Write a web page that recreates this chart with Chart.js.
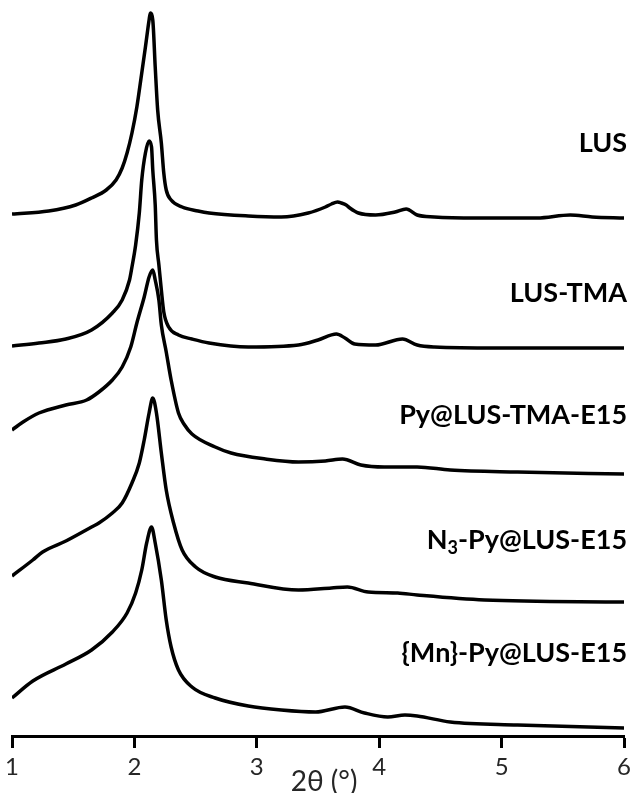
<!DOCTYPE html>
<html>
<head>
<meta charset="utf-8">
<script src="https://cdn.jsdelivr.net/npm/chart.js@4/dist/chart.umd.min.js"></script>
<style>
  html, body { margin: 0; padding: 0; background: #fff; }
  canvas { display: block; }
</style>
</head>
<body>
<canvas id="xrd" width="636" height="793"></canvas>
<script>
// Small-angle XRD patterns, stacked (intensity in arbitrary units, offset per sample)
var seriesNames = ['LUS', 'LUS-TMA', 'Py@LUS-TMA-E15', 'N3-Py@LUS-E15', '{Mn}-Py@LUS-E15'];
var xTicks = [1, 2, 3, 4, 5, 6];

var lusX = [1.00, 1.30, 1.52, 1.65, 1.77, 1.85, 1.90, 1.94, 1.98, 2.02, 2.06, 2.09, 2.12, 2.13, 2.15, 2.17, 2.19, 2.22, 2.24, 2.26, 2.30, 2.39, 2.52, 2.61, 2.93, 3.20, 3.42, 3.56, 3.61, 3.66, 3.69, 3.73, 3.76, 3.83, 3.97, 4.13, 4.22, 4.31, 4.45, 4.80, 5.29, 5.56, 5.74, 6.00];
var lusY = [522, 525, 531, 538, 546, 556, 568, 583, 603, 629, 663, 689, 716, 723, 716, 669, 626, 593, 563, 546, 536, 529, 525, 523, 520, 519, 523, 529, 532, 534, 533, 531, 528, 523, 521, 524, 527, 521, 519, 518, 518, 521, 519, 518];

var tmaX = [1.00, 1.22, 1.44, 1.65, 1.82, 1.90, 1.96, 1.98, 2.01, 2.04, 2.06, 2.09, 2.12, 2.14, 2.15, 2.17, 2.18, 2.20, 2.22, 2.24, 2.28, 2.36, 2.47, 2.61, 2.93, 3.34, 3.50, 3.65, 3.72, 3.80, 3.97, 4.19, 4.31, 4.45, 4.96, 6.00];
var tmaY = [390, 393, 397, 406, 423, 436, 456, 469, 491, 523, 556, 583, 595, 589, 566, 531, 496, 471, 446, 424, 409, 401, 397, 393, 389, 391, 396, 402, 398, 392, 391, 397, 391, 389, 388, 388];

var pyX = [1.00, 1.09, 1.22, 1.44, 1.61, 1.71, 1.82, 1.90, 1.97, 2.02, 2.08, 2.12, 2.15, 2.17, 2.20, 2.22, 2.26, 2.30, 2.36, 2.41, 2.47, 2.66, 2.79, 3.07, 3.34, 3.56, 3.70, 3.85, 4.04, 4.31, 4.58, 5.13, 6.00];
var pyY = [306, 314, 323, 331, 336, 344, 356, 369, 389, 413, 439, 459, 466, 456, 436, 411, 384, 356, 323, 311, 302, 289, 283, 277, 274, 275, 277, 271, 269, 269, 266, 264, 262];

var n3X = [1.00, 1.17, 1.25, 1.44, 1.65, 1.71, 1.82, 1.90, 1.98, 2.04, 2.08, 2.12, 2.15, 2.18, 2.22, 2.26, 2.32, 2.39, 2.50, 2.66, 2.93, 3.34, 3.61, 3.74, 3.91, 4.15, 4.31, 4.86, 6.00];
var n3Y = [160, 176, 184, 195, 209, 213, 223, 233, 253, 273, 296, 323, 338, 323, 283, 246, 213, 186, 169, 159, 153, 146, 148, 149, 144, 143, 141, 136, 134];

var mnX = [1.00, 1.17, 1.44, 1.65, 1.82, 1.94, 2.01, 2.06, 2.10, 2.14, 2.17, 2.22, 2.26, 2.30, 2.36, 2.47, 2.66, 2.93, 3.20, 3.48, 3.72, 3.88, 4.07, 4.21, 4.31, 4.58, 5.13, 6.00];
var mnY = [38, 55, 72, 86, 104, 123, 143, 166, 193, 209, 193, 156, 116, 89, 66, 49, 38, 30, 26, 24, 29, 23, 19, 21, 20, 14, 11, 8];

// where each sample name sits (pixel rows of the text centre)
var labelRows = [143, 293, 415, 540, 653];

function pairs(xs, ys) {
    return xs.map(function (x, i) { return { x: x, y: ys[i] }; });
}

var allX = [lusX, tmaX, pyX, n3X, mnX];
var allY = [lusY, tmaY, pyY, n3Y, mnY];

var datasets = seriesNames.map(function (name, i) {
    return {
        label: name,
        data: pairs(allX[i], allY[i]),
        borderColor: '#000',
        borderWidth: 3.5,
        pointRadius: 0,
        fill: false,
        cubicInterpolationMode: 'monotone'
    };
});

// sample names at right, N3 gets a real subscript
var sampleLabels = {
    id: 'sampleLabels',
    afterDatasetsDraw: function (chart) {
        var ctx = chart.ctx;
        var right = chart.chartArea.right + 3;
        var big = 'bold 27px Lato';
        var small = 'bold 18px Lato';
        ctx.save();
        ctx.fillStyle = '#000';
        ctx.textBaseline = 'middle';
        seriesNames.forEach(function (name, i) {
            var y = labelRows[i];
            if (name.indexOf('N3') === 0) {
                var rest = name.slice(2);
                ctx.font = big;
                var wN = ctx.measureText('N').width;
                var wRest = ctx.measureText(rest).width;
                ctx.font = small;
                var w3 = ctx.measureText('3').width;
                var x0 = right - (wN + w3 + wRest);
                ctx.textAlign = 'left';
                ctx.font = big;
                ctx.fillText('N', x0, y);
                ctx.font = small;
                ctx.fillText('3', x0 + wN, y + 8);
                ctx.font = big;
                ctx.fillText(rest, x0 + wN + w3, y);
            } else {
                ctx.font = big;
                ctx.textAlign = 'right';
                ctx.fillText(name, right, y);
            }
        });
        ctx.restore();
    }
};

// axis title sits on the tick-label row, between 3 and 4
var axisTitle = {
    id: 'axisTitle',
    afterDraw: function (chart) {
        var ctx = chart.ctx;
        var a = chart.chartArea;
        ctx.save();
        ctx.font = '28px Lato';
        ctx.fillStyle = '#262626';
        ctx.textAlign = 'center';
        ctx.textBaseline = 'middle';
        ctx.fillText('2\u03b8 (\u00b0)', (a.left + a.right) / 2 + 6, a.bottom + 46);
        ctx.restore();
    }
};

new Chart(document.getElementById('xrd').getContext('2d'), {
    type: 'line',
    data: { datasets: datasets },
    options: {
        responsive: false,
        animation: false,
        devicePixelRatio: 1,
        layout: { padding: { left: 12, right: 9, top: 6, bottom: 0 } },
        plugins: {
            legend: { display: false },
            tooltip: { enabled: false }
        },
        scales: {
            x: {
                type: 'linear',
                min: xTicks[0],
                max: xTicks[xTicks.length - 1],
                afterBuildTicks: function (scale) {
                    scale.ticks = xTicks.map(function (v) { return { value: v }; });
                },
                afterFit: function (scale) { scale.height = 57; },
                border: { display: true, color: '#000', width: 3 },
                grid: {
                    drawOnChartArea: false,
                    drawTicks: true,
                    tickLength: 12,
                    tickColor: '#000',
                    tickWidth: 3
                },
                ticks: {
                    font: { family: 'Lato', size: 24 },
                    color: '#262626',
                    padding: 5,
                    maxRotation: 0
                }
            },
            y: {
                display: false,
                min: 0,
                max: 730
            }
        }
    },
    plugins: [sampleLabels, axisTitle]
});
</script>
</body>
</html>
